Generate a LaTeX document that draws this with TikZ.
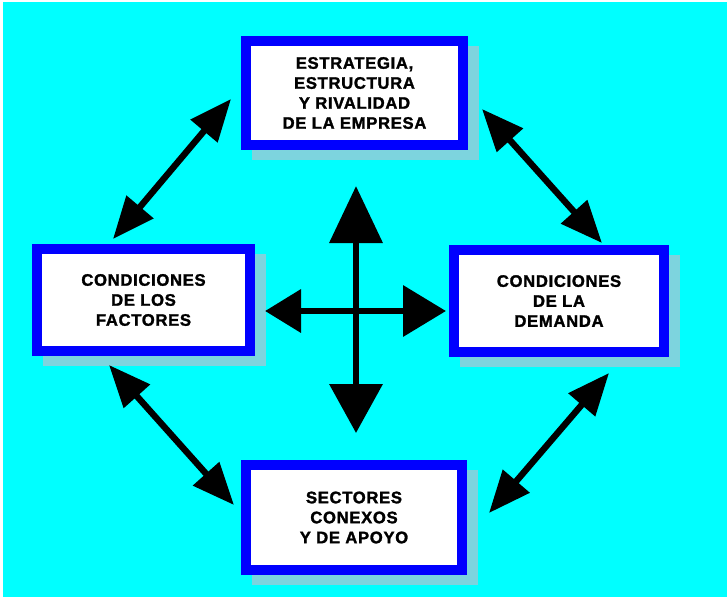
\documentclass[tikz,border=0pt]{standalone}
\usepackage{fontspec}
\newfontfamily\boxfont{Liberation Sans}[LetterSpace=4, BoldFeatures={FakeBold=1.6}]
\usetikzlibrary{arrows.meta,calc,backgrounds}
\definecolor{bgcyan}{RGB}{0,255,255}
\definecolor{bordblue}{RGB}{0,0,255}
\definecolor{shadowc}{RGB}{125,212,222}
\begin{document}
\begin{tikzpicture}[x=0.75pt,y=-0.75pt,
  box/.style={draw=bordblue, line width=7.5pt, fill=white, inner sep=0pt, align=center,
    font=\boxfont\bfseries\fontsize{12.5}{15}\selectfont},
  dbl/.style={line width=4.8pt, {Triangle[length=31.5pt,width=25.5pt]}-{Triangle[length=31.5pt,width=25.5pt]}},
  crossarrow/.style={line width=5.2pt}]
\useasboundingbox (0,0) rectangle (727,600);
\begin{scope}[on background layer]
  \fill[bgcyan] (3,2) rectangle (727,597);
\end{scope}

\node[box, minimum width=162.75pt, minimum height=78pt] (top) at (354.5,93)
  {ESTRATEGIA,\\ESTRUCTURA\\Y RIVALIDAD\\DE LA EMPRESA};
\node[box, minimum width=159.75pt, minimum height=76.5pt] (left) at (143.5,300)
  {CONDICIONES\\DE LOS\\FACTORES};
\node[box, minimum width=157.5pt, minimum height=76.5pt] (right) at (559,301)
  {CONDICIONES\\DE LA\\DEMANDA};
\node[box, minimum width=162pt, minimum height=78.75pt] (bottom) at (354,517.5)
  {SECTORES\\CONEXOS\\Y DE APOYO};

\begin{scope}[on background layer]
  \foreach \n in {top,left,right,bottom}
    \fill[shadowc] ($(\n.north west)+(11,10)$) rectangle ($(\n.south east)+(11,10)$);
\end{scope}

\draw[dbl] ($(top.west)+(-10,6)$) -- ($(left.north)+(-30.5,-5)$);
\draw[dbl] ($(top.east)+(14,16)$) -- ($(right.north)+(43,-2)$);
\draw[dbl] ($(left.south)+(-34.5,9)$) -- ($(bottom.west)+(-7,-12.5)$);
\draw[dbl] ($(right.south)+(50,16)$) -- ($(bottom.east)+(22,-4.5)$);

\coordinate (c) at (356,311);
\draw[crossarrow, -{Triangle[length=42.75pt,width=39pt]}] (c) -- ++(0,-125);
\draw[crossarrow, -{Triangle[length=36.75pt,width=39pt]}] (c) -- ++(0,122);
\draw[crossarrow, -{Triangle[length=27pt,width=31.5pt]}] (c) -- ++(-91,0);
\draw[crossarrow, -{Triangle[length=32.25pt,width=37.5pt]}] (c) -- ++(90,0);
\end{tikzpicture}
\end{document}
